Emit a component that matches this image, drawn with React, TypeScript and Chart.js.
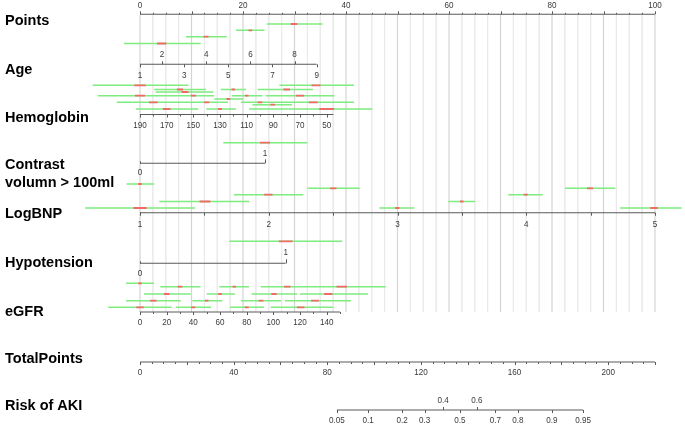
import React, { useEffect, useRef } from "react";
import { Chart, registerables } from "chart.js";

Chart.register(...registerables);

const W = 685;
const H = 428;

// ---------- variable scales: value range -> points range ----------
const pointsLabels = [0, 20, 40, 60, 80, 100];
const ageValues = [1, 9];
const agePts = [0, 34.3];
const ageTopLabels = [2, 4, 6, 8];
const ageBottomLabels = [1, 3, 5, 7, 9];
const hbValues = [190, 45];
const hbPts = [0, 37.54];
const hbLabels = [190, 170, 150, 130, 110, 90, 70, 50];
const hbTicks = [190, 180, 170, 160, 150, 140, 130, 120, 110, 100, 90, 80, 70, 60, 50];
const contrastValues = [0, 1];
const contrastPts = [0, 24.27];
const logbnpValues = [1, 5];
const logbnpPts = [0, 100];
const logbnpLabels = [1, 2, 3, 4, 5];
const logbnpTicks = [1, 1.5, 2, 2.5, 3, 3.5, 4, 4.5, 5];
const hypoValues = [0, 1];
const hypoPts = [0, 28.3];
const egfrValues = [0, 150];
const egfrPts = [0, 38.83];
const egfrLabels = [0, 20, 40, 60, 80, 100, 120, 140];
const egfrTicks = [0, 10, 20, 30, 40, 50, 60, 70, 80, 90, 100, 110, 120, 130, 140, 150];
const totalValues = [0, 220];
const totalPts = [0, 100];
const totalLabels = [0, 40, 80, 120, 160, 200];
const riskIntercept = -7.655;
const riskSlope = 0.056;
const riskTopLabels = [0.4, 0.6];
const riskBottomLabels = [0.05, 0.1, 0.2, 0.3, 0.5, 0.7, 0.8, 0.9, 0.95];

// ---------- interval bars: [low, mid, high] in points, row y ----------
const ageBars = [
  [24.6, 29.9, 35.44, 24],
  [18.64, 21.42, 24.17, 30.3],
  [8.93, 12.82, 16.83, 36.7],
  [-3.11, 4.21, 11.79, 43.5],
];
const hbBars = [
  [-9.18, 0, 9.38, 85.3], [27.05, 34.17, 41.55, 85.3],
  [2.78, 7.77, 12.82, 89.5], [15.67, 18.12, 20.58, 89.5], [22.85, 28.49, 33.59, 89.5],
  [3.01, 8.74, 14.23, 92],
  [-8.16, 0, 8.16, 95.7], [6.21, 10.35, 14.37, 95.7], [17.81, 20.72, 23.75, 95.7], [24.41, 31.07, 37.73, 95.7],
  [14.43, 17.15, 20.06, 99],
  [-4.52, 2.58, 9.71, 102.3], [8.74, 12.95, 17.09, 102.3], [19.61, 23.3, 27.18, 102.3], [27.18, 33.65, 41.55, 102.3],
  [21.84, 25.77, 29.51, 104.7],
  [-0.78, 5.18, 11.32, 109], [12.87, 15.53, 18.64, 109], [21.17, 36.25, 45.11, 109],
];
const contrastBars = [
  [16.17, 24.27, 32.49, 142.7],
  [-2.62, 0, 2.76, 184],
];
const logbnpBars = [
  [-10.68, 0, 10.68, 208], [46.47, 49.96, 53.26, 208], [93.2, 99.81, 105.18, 208],
  [3.75, 12.62, 21.22, 201.5], [59.86, 62.47, 65.11, 201.5],
  [18.25, 24.91, 31.71, 194.7], [71.51, 74.89, 78.19, 194.7],
  [32.49, 37.53, 42.66, 188.3], [82.52, 87.38, 92.29, 188.3],
];
const hypoBars = [
  [17.34, 28.29, 39.28, 241.3],
  [-2.72, 0, 2.72, 283.3],
];
const egfrBars = [
  [3.94, 7.77, 11.75, 286.7], [15.4, 18.31, 21.17, 286.7], [23.44, 28.6, 33.79, 286.7], [30.68, 39.17, 47.71, 286.7],
  [0.78, 5.18, 9.84, 294], [12.95, 15.53, 18.45, 294], [21.69, 26.02, 30.49, 294], [31.07, 36.56, 44.27, 294],
  [-2.72, 2.58, 7.9, 300.7], [10.16, 12.95, 15.98, 300.7], [19.61, 23.5, 27.38, 300.7], [28.16, 33.98, 40.97, 300.7],
  [-6.16, 0, 6.16, 307.3], [6.99, 10.35, 13.79, 307.3], [17.48, 20.72, 24.08, 307.3], [25.38, 31.2, 37.53, 307.3],
];

// ---------- layout ----------
const X_MIN = -140 / 5.15;
const X_MAX = (W - 140) / 5.15;
const Y_POINTS = 14.3;
const Y_AGE = 64.3;
const Y_HB = 114.5;
const Y_CONTRAST = 163.3;
const Y_LOGBNP = 212.7;
const Y_HYPO = 263.3;
const Y_EGFR = 312;
const Y_TOTAL = 362;
const Y_RISK = 410;
const GRID_TOP = 15;
const GRID_BOTTOM = 312;

const lin = (v: number, vr: number[], pr: number[]) =>
  pr[0] + ((v - vr[0]) * (pr[1] - pr[0])) / (vr[1] - vr[0]);
const logit = (p: number) => Math.log(p / (1 - p));
const riskToPts = (p: number) =>
  lin((logit(p) - riskIntercept) / riskSlope, totalValues, totalPts);

function segs(list: number[][]) {
  const out: any[] = [];
  list.forEach(([a, b, y]) => {
    out.push({ x: a, y }, { x: b, y }, { x: b, y: null });
  });
  return out;
}

const allBars = [...ageBars, ...hbBars, ...contrastBars, ...logbnpBars, ...hypoBars, ...egfrBars];

function buildDatasets() {
  const gridLight: number[][] = [];
  const gridDark: number[][] = [];
  for (let p = 0; p <= 100.001; p += 2.5) {
    const isMajor = Math.abs(p / 10 - Math.round(p / 10)) < 1e-6;
    (isMajor ? gridDark : gridLight).push([p, GRID_TOP, GRID_BOTTOM]);
  }
  const vseg = (list: number[][]) => {
    const out: any[] = [];
    list.forEach(([x, y0, y1]) => out.push({ x, y: y0 }, { x, y: y1 }, { x, y: null }));
    return out;
  };
  const axes = segs([
    [0, 100, Y_POINTS],
    [agePts[0], agePts[1], Y_AGE],
    [hbPts[0], hbPts[1], Y_HB],
    [contrastPts[0], contrastPts[1], Y_CONTRAST],
    [logbnpPts[0], logbnpPts[1], Y_LOGBNP],
    [hypoPts[0], hypoPts[1], Y_HYPO],
    [egfrPts[0], egfrPts[1], Y_EGFR],
    [totalPts[0], totalPts[1], Y_TOTAL],
    [riskToPts(0.05), riskToPts(0.95), Y_RISK],
  ]);
  const green = segs(allBars.map(([lo, , hi, y]) => [lo, hi, y]));
  const red = segs(
    allBars.map(([lo, mid, hi, y]) => {
      const h = Math.max(0.35, 0.06 * (hi - lo));
      return [mid - h, mid + h, y];
    })
  );
  const base = { showLine: true, pointRadius: 0, pointHoverRadius: 0, spanGaps: false, borderCapStyle: "butt" };
  return [
    { ...base, data: red, borderColor: "#f06a6a", borderWidth: 1.8, order: 1 },
    { ...base, data: green, borderColor: "#7fec7f", borderWidth: 1.6, order: 2 },
    { ...base, data: axes, borderColor: "#5a5a5a", borderWidth: 1.1, order: 3 },
    { ...base, data: vseg(gridDark), borderColor: "#d4d4d4", borderWidth: 1.2, order: 4 },
    { ...base, data: vseg(gridLight), borderColor: "#ebebeb", borderWidth: 1, order: 5 },
  ];
}

const TICK_FONT = "9px 'Liberation Sans', Arial, sans-serif";
const LABEL_FONT = "bold 14.5px 'Liberation Sans', Arial, sans-serif";

function txt(ctx: CanvasRenderingContext2D, s: string, x: number, y: number, font: string, color: string, align: CanvasTextAlign, sx: number) {
  ctx.save();
  ctx.font = font;
  ctx.fillStyle = color;
  ctx.textAlign = align;
  ctx.textBaseline = "middle";
  ctx.translate(x, y);
  ctx.scale(sx, 1);
  ctx.fillText(s, 0, 0);
  ctx.restore();
}

const nomogramPlugin = {
  id: "nomogram",
  afterDatasetsDraw(chart: any) {
    const ctx: CanvasRenderingContext2D = chart.ctx;
    const xs = chart.scales.x;
    const ys = chart.scales.y;
    const X = (p: number) => xs.getPixelForValue(p);
    const Y = (v: number) => ys.getPixelForValue(v);
    const tick = (p: number, yv: number, len: number) => {
      const x = Math.round(X(p)) + 0.5;
      const y = Y(yv);
      ctx.beginPath();
      ctx.moveTo(x, y);
      ctx.lineTo(x, y + len);
      ctx.stroke();
    };
    const lab = (s: string, p: number, yv: number) => txt(ctx, s, X(p), Y(yv), TICK_FONT, "#3a3a3a", "center", 0.9);

    ctx.save();
    ctx.strokeStyle = "#5a5a5a";
    ctx.lineWidth = 1;

    // Points
    for (let p = 0; p <= 100.001; p += 2.5) {
      const m10 = Math.abs(p / 10 - Math.round(p / 10)) < 1e-6;
      tick(p, Y_POINTS, m10 ? -3 : -1.5);
    }
    pointsLabels.forEach((v) => lab(String(v), v, 5.5));

    // Age
    ageTopLabels.forEach((v) => { tick(lin(v, ageValues, agePts), Y_AGE, -3); lab(String(v), lin(v, ageValues, agePts), 54.3); });
    ageBottomLabels.forEach((v) => { tick(lin(v, ageValues, agePts), Y_AGE, 3); lab(String(v), lin(v, ageValues, agePts), 76); });

    // Hemoglobin
    hbTicks.forEach((v) => tick(lin(v, hbValues, hbPts), Y_HB, hbLabels.includes(v) ? 3 : 2));
    hbLabels.forEach((v) => lab(String(v), lin(v, hbValues, hbPts), 126));

    // Contrast
    tick(contrastPts[0], Y_CONTRAST, -2);
    tick(contrastPts[1], Y_CONTRAST, -4);
    lab("1", contrastPts[1], 153.3);
    lab("0", contrastPts[0], 172.7);

    // LogBNP
    logbnpTicks.forEach((v) => tick(lin(v, logbnpValues, logbnpPts), Y_LOGBNP, 3));
    logbnpLabels.forEach((v) => lab(String(v), lin(v, logbnpValues, logbnpPts), 224.3));

    // Hypotension
    tick(hypoPts[0], Y_HYPO, -2);
    tick(hypoPts[1], Y_HYPO, -4);
    lab("1", hypoPts[1], 253);
    lab("0", hypoPts[0], 274);

    // eGFR
    egfrTicks.forEach((v) => tick(lin(v, egfrValues, egfrPts), Y_EGFR, egfrLabels.includes(v) ? 3 : 2));
    egfrLabels.forEach((v) => lab(String(v), lin(v, egfrValues, egfrPts), 322.7));

    // Total points
    for (let t = 0; t <= 220.001; t += 5) {
      tick(lin(t, totalValues, totalPts), Y_TOTAL, t % 20 === 0 ? 3 : 2);
    }
    totalLabels.forEach((v) => lab(String(v), lin(v, totalValues, totalPts), 373));

    // Risk
    riskTopLabels.forEach((p) => { tick(riskToPts(p), Y_RISK, -3); lab(String(p), riskToPts(p), 401); });
    riskBottomLabels.forEach((p) => { tick(riskToPts(p), Y_RISK, 3); lab(String(p), riskToPts(p), 421); });
    ctx.restore();

    // Row labels
    const L = (s: string, y: number) => txt(ctx, s, 5, y, LABEL_FONT, "#000", "left", 1);
    L("Points", 21);
    L("Age", 70);
    L("Hemoglobin", 118.3);
    L("Contrast", 165);
    L("volumn > 100ml", 183.3);
    L("LogBNP", 214);
    L("Hypotension", 263.3);
    L("eGFR", 312);
    L("TotalPoints", 359);
    L("Risk of AKI", 406);
  },
};

export default function App() {
  const ref = useRef<HTMLCanvasElement | null>(null);
  useEffect(() => {
    document.body.style.margin = "0";
    document.body.style.overflow = "hidden";
    const canvas = ref.current!;
    const chart = new Chart(canvas, {
      type: "scatter",
      data: { datasets: buildDatasets() as any },
      options: {
        animation: false,
        responsive: false,
        devicePixelRatio: 1,
        events: [],
        layout: { padding: 0 },
        scales: {
          x: { type: "linear", min: X_MIN, max: X_MAX, display: false },
          y: { type: "linear", min: 0, max: H, reverse: true, display: false },
        },
        plugins: { legend: { display: false }, tooltip: { enabled: false } },
      } as any,
      plugins: [nomogramPlugin],
    });
    return () => chart.destroy();
  }, []);
  return (
    <div style={{ width: W, height: H, background: "#fff" }}>
      <canvas ref={ref} width={W} height={H} style={{ display: "block", width: W, height: H }} />
    </div>
  );
}
